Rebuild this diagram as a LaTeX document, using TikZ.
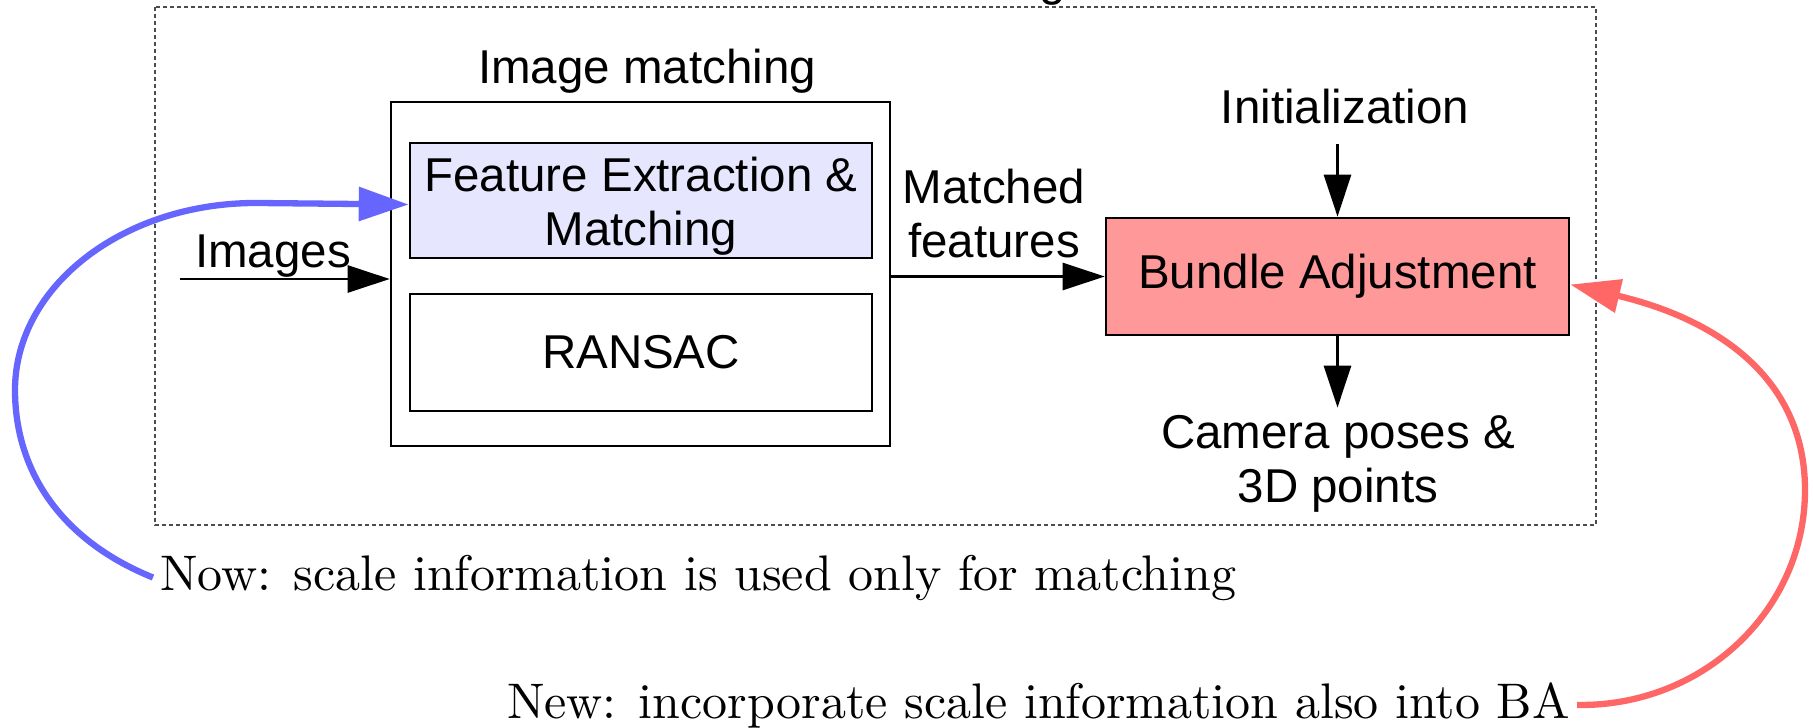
\documentclass[tikz,border=0pt]{standalone}
\usepackage{fontspec}
\newfontfamily\labelfont{Liberation Sans}
\newfontfamily\notefont{lmroman10-regular.otf}
\usetikzlibrary{arrows.meta}
\definecolor{fepurple}{HTML}{E6E6FF}
\definecolor{bapink}{HTML}{FF9999}
\definecolor{nowblue}{HTML}{6666FF}
\definecolor{newred}{HTML}{FF6666}

\begin{document}
\begin{tikzpicture}[x=1pt,y=-1pt,
  lbl/.style={font=\labelfont\fontsize{47.5}{54}\selectfont, inner sep=0pt, align=center},
  block/.style={lbl, draw, line width=2.6pt, anchor=center},
  flow/.style={line width=2.8pt, -{Triangle[length=42pt,width=27pt]}},
  note/.style={font=\notefont\fontsize{50}{60}\selectfont, inner ysep=0pt, inner xsep=7pt},
  remark/.style={line width=6.3pt, -{Triangle[length=50pt,width=33pt]}},
]
\useasboundingbox (0,0) rectangle (1813,728);

% overall pipeline frame and its (cropped) caption
\draw[gray!60!black, line width=1.2pt, dash pattern=on 4pt off 3pt] (155,7) rectangle (1596,525);
\node[lbl, anchor=base] (topg) at (1053,-5) {g};

% image matching stage
\node[lbl, anchor=base] (imtitle) at (647,83) {Image matching};
\node[block, minimum width=499pt, minimum height=344pt] (im) at (640.5,274) {};
\node[block, fill=fepurple, minimum width=462pt, minimum height=115pt] (fe) at (641,200.5)
  {\rule{0pt}{46pt}Feature Extraction \&\\Matching};
\node[block, fill=white, minimum width=462pt, minimum height=117pt] (rs) at (641,352.5) {RANSAC};

% input
\coordinate (imgsrc) at (180,279);
\node[lbl, anchor=base] (imglbl) at (273,267) {Images};
\draw[flow] (imgsrc) -- (imgsrc -| im.west);

% bundle adjustment stage
\node[block, fill=bapink, minimum width=463pt, minimum height=117pt] (ba) at (1337.5,276.5) {Bundle Adjustment};
\node[lbl, anchor=base] (mf) at (994,257) {Matched\\features};
\draw[flow] (ba.west -| im.east) -- (ba.west);

\node[lbl, anchor=base] (init) at (1345,123) {Initialization};
\coordinate (initfoot) at ([yshift=-20pt]init.south);
\draw[flow] (initfoot -| ba.north) -- (ba.north);

\node[lbl, anchor=base] (cam) at (1338,502) {Camera poses \&\\3D points};
\coordinate (camtop) at ([yshift=7pt]cam.north);
\draw[flow] (ba.south) -- (ba.south |- camtop);

% remarks
\node[note, anchor=base west] (now) at (153,590) {Now: scale information is used only for matching};
\node[note, anchor=base east] (new) at (1577,718) {New: incorporate scale information also into BA};

\draw[remark, nowblue] (now.west) .. controls (60,540) and (15,470) .. (15,390)
  .. controls (15,286) and (124,202) .. (258,203) -- ([yshift=-4pt]fe.west);
\draw[remark, newred] (new.east) .. controls (1703,707) and (1805,610) .. (1805,490)
  .. controls (1805,380) and (1720,320) .. ([yshift=-8pt]ba.east);
\end{tikzpicture}
\end{document}
